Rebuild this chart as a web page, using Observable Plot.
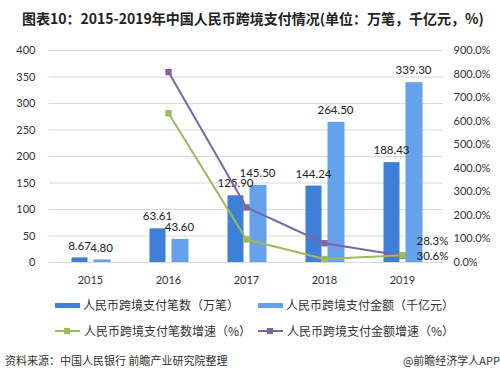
<!DOCTYPE html>
<html><head><meta charset="utf-8">
<script src="https://cdn.jsdelivr.net/npm/d3@7"></script>
<script src="https://cdn.jsdelivr.net/npm/@observablehq/plot@0.6"></script>
<style>
body{margin:0;background:#fff;}
#wrap{position:relative;width:500px;height:376px;overflow:hidden;font-family:Lato,"Noto Sans CJK SC",sans-serif;color:#333;}
#title{position:absolute;left:22px;top:8px;font-size:14px;font-weight:bold;color:#222;white-space:nowrap;font-family:"Noto Sans CJK SC",sans-serif;}
#chart{position:absolute;left:0;top:0;}
.leg{position:absolute;font-size:12px;white-space:nowrap;font-family:"Noto Sans CJK SC",sans-serif;color:#333;line-height:14px;}
.sw{position:absolute;}
#src{position:absolute;left:5px;top:352px;font-size:11px;font-family:"Noto Sans CJK SC",sans-serif;color:#333;white-space:nowrap;}
#app{position:absolute;right:0px;top:352px;font-size:11px;font-family:"Noto Sans CJK SC",sans-serif;color:#333;white-space:nowrap;}
</style></head>
<body>
<div id="wrap">
  <div id="chart"></div>
  <div id="title">图表10：2015-2019年中国人民币跨境支付情况(单位：万笔，千亿元，%)</div>
  <div class="sw" style="left:55px;top:303px;width:25px;height:5px;background:#3d7fd9"></div>
  <div class="leg" style="left:83px;top:298px">人民币跨境支付笔数（万笔）</div>
  <div class="sw" style="left:258px;top:303px;width:25px;height:5px;background:#66a2ec"></div>
  <div class="leg" style="left:286px;top:298px">人民币跨境支付金额（千亿元）</div>
  <div class="sw" style="left:55px;top:330px;width:25px;height:2px;background:#9bbb59"></div>
  <div class="sw" style="left:64px;top:328px;width:6px;height:6px;background:#9bbb59"></div>
  <div class="leg" style="left:84px;top:324px">人民币跨境支付笔数增速（%）</div>
  <div class="sw" style="left:258px;top:330px;width:25px;height:2px;background:#7f64a3"></div>
  <div class="sw" style="left:267px;top:328px;width:6px;height:6px;background:#7f64a3"></div>
  <div class="leg" style="left:287px;top:324px">人民币跨境支付金额增速（%）</div>
  <div id="src">资料来源：中国人民银行 前瞻产业研究院整理</div>
  <div id="app">@前瞻经济学人APP</div>
</div>
<script>
const years = ["2015","2016","2017","2018","2019"];
const countVals = [8.67, 63.61, 125.90, 144.24, 188.43];
const amountVals = [4.80, 43.60, 145.50, 264.50, 339.30];
const countGrowth = [null, 633.7, 97.9, 14.6, 30.6];
const amountGrowth = [null, 808.3, 233.7, 81.8, 28.3];
const leftTicks = [0,50,100,150,200,250,300,350,400];
const rightTicks = [0,100,200,300,400,500,600,700,800,900];

const k = 400/900;
const bars = years.map((y,i)=>({year:y, count:countVals[i], amount:amountVals[i]}));
const cg = years.map((y,i)=>({year:y, v:countGrowth[i]})).filter(d=>d.v!=null);
const ag = years.map((y,i)=>({year:y, v:amountGrowth[i]})).filter(d=>d.v!=null);
const lastC = cg[cg.length-1], lastA = ag[ag.length-1];

const chart = Plot.plot({
  width: 500, height: 376,
  marginLeft: 49, marginRight: 57, marginTop: 50, marginBottom: 114,
  style:{fontFamily:'Lato,"Noto Sans CJK SC",sans-serif', fontSize:"11px", color:"#333", background:"transparent"},
  x:{domain: years, padding: 0, axis: null, label: null},
  y:{domain:[0,400], axis: null, label: null},
  marks:[
    Plot.ruleY(leftTicks, {stroke:"#d9d9d9", strokeWidth:1}),
    Plot.axisY({ticks:leftTicks, tickSize:0, tickPadding:14, fontSize:11, label:null, tickFormat:d=>String(d)}),
    Plot.axisY({anchor:"right", ticks: rightTicks.map(p=>p*k), tickSize:0, tickPadding:10, fontSize:11, label:null,
      tickFormat:v=>(Math.round(v/k)).toFixed(1)+"%"}),
    Plot.axisX({tickSize:0, tickPadding:14, fontSize:11, label:null}),
    Plot.barY(bars, {x:"year", y:"count", fill:"#3d7fd9", insetLeft:20.5, insetRight:41.5}),
    Plot.barY(bars, {x:"year", y:"amount", fill:"#66a2ec", insetLeft:42.5, insetRight:18.5}),
    Plot.text(bars, {x:"year", y:"count", text:d=>d.count.toFixed(2), dx:-11, dy:-12, fontSize:11.5, fill:"#222"}),
    Plot.text(bars, {x:"year", y:"amount", text:d=>d.amount.toFixed(2), dx:11, dy:-12, fontSize:11.5, fill:"#222"}),
    Plot.line(ag, {x:"year", y:d=>d.v*k, stroke:"#7f64a3", strokeWidth:2}),
    Plot.line(cg, {x:"year", y:d=>d.v*k, stroke:"#9bbb59", strokeWidth:2}),
    Plot.dot(ag, {x:"year", y:d=>d.v*k, symbol:"square", r:3.6, fill:"#7f64a3"}),
    Plot.dot(cg, {x:"year", y:d=>d.v*k, symbol:"square", r:3.6, fill:"#9bbb59"}),
    Plot.text([lastA], {x:"year", y:d=>d.v*k, text:d=>d.v.toFixed(1)+"%", dx:14, dy:-15, textAnchor:"start", fontSize:11.5, fill:"#222"}),
    Plot.text([lastC], {x:"year", y:d=>d.v*k, text:d=>d.v.toFixed(1)+"%", dx:14, dy:1, textAnchor:"start", fontSize:11.5, fill:"#222"})
  ]
});
document.getElementById("chart").appendChild(chart);
</script>
</body></html>
